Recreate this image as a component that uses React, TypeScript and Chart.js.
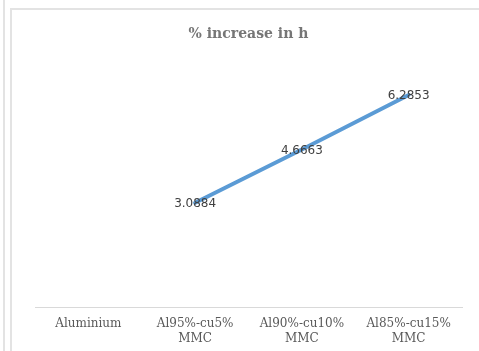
import React, { useEffect, useRef } from "react";
import { Chart, registerables } from "chart.js";

Chart.register(...registerables);

const categories: string[][] = [
  ["Aluminium"],
  ["Al95%-cu5%", "MMC"],
  ["Al90%-cu10%", "MMC"],
  ["Al85%-cu15%", "MMC"],
];
const values: (number | null)[] = [null, 3.0884, 4.6663, 6.2853];
const valueLabels: string[] = ["", "3.0884", "4.6663", "6.2853"];
const chartTitle = "% increase in h";

const dataLabelPlugin = {
  id: "dataLabels",
  afterDatasetsDraw(chart: any) {
    const ctx = chart.ctx;
    const meta = chart.getDatasetMeta(0);
    ctx.save();
    ctx.font = '12px "DejaVu Sans", Verdana, sans-serif';
    ctx.fillStyle = "#404040";
    ctx.textAlign = "center";
    ctx.textBaseline = "middle";
    meta.data.forEach((pt: any, i: number) => {
      const v = values[i];
      if (v === null || v === undefined) return;
      ctx.fillText(valueLabels[i], pt.x, pt.y + 1);
    });
    ctx.restore();
  },
};

export default function App() {
  const ref = useRef<HTMLCanvasElement>(null);
  useEffect(() => {
    document.body.style.margin = "0";
    const chart = new Chart(ref.current!, {
      type: "line",
      data: {
        labels: categories,
        datasets: [
          {
            data: values,
            borderColor: "#5B9BD5",
            borderWidth: 4,
            pointRadius: 0,
            fill: false,
            tension: 0,
            borderCapStyle: "round",
          },
        ],
      },
      options: {
        responsive: false,
        animation: false,
        layout: { padding: { left: 35, right: 17, top: 0, bottom: 0 } },
        plugins: {
          legend: { display: false },
          tooltip: { enabled: false },
          title: {
            display: true,
            text: chartTitle,
            color: "#767676",
            font: { family: '"DejaVu Serif", serif', size: 14, weight: "bold" },
            padding: { top: 26, bottom: 28 },
          },
        },
        scales: {
          x: {
            type: "category",
            offset: true,
            grid: { display: false },
            border: { display: true, color: "#D9D9D9", width: 1 },
            ticks: {
              color: "#595959",
              font: { family: '"DejaVu Serif", serif', size: 12, lineHeight: 1.25 },
              padding: 1,
              maxRotation: 0,
              autoSkip: false,
            },
            afterFit: (scale: any) => {
              scale.height = 44;
            },
          },
          y: {
            display: false,
            min: 0,
            max: 7,
          },
        },
      },
      plugins: [dataLabelPlugin],
    });
    return () => chart.destroy();
  }, []);

  return (
    <div style={{ position: "relative", width: 479, height: 351, background: "#fff", overflow: "hidden" }}>
      <canvas ref={ref} width={479} height={351} style={{ position: "absolute", left: 0, top: 0 }} />
      <div style={{ position: "absolute", left: 3, top: 0, width: 2, height: 351, background: "#E3E3E3" }} />
      <div style={{ position: "absolute", left: 10, top: 8, width: 2, height: 343, background: "#E3E3E3" }} />
      <div style={{ position: "absolute", left: 10, top: 8, width: 469, height: 2, background: "#E3E3E3" }} />
    </div>
  );
}
